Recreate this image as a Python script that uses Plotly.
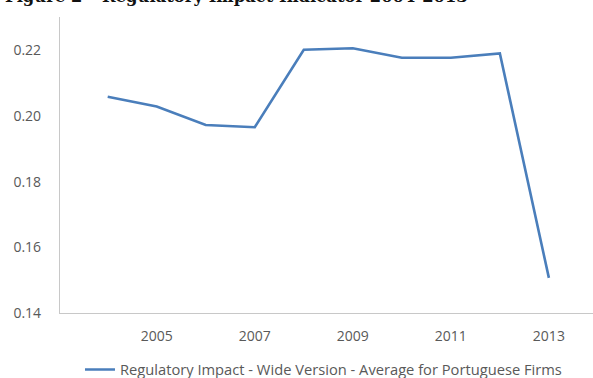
import plotly.graph_objects as go

# Regulatory impact indicator, wide version, average across Portuguese firms
years = [2004, 2005, 2006, 2007, 2008, 2009, 2010, 2011, 2012, 2013]
impact = [0.2059, 0.2029, 0.1973, 0.1966, 0.2202, 0.2207, 0.2178, 0.2178, 0.2191, 0.1507]

x_ticks = [2005, 2007, 2009, 2011, 2013]
y_ticks = [0.14, 0.16, 0.18, 0.20, 0.22]
series_name = "Regulatory Impact - Wide Version - Average for Portuguese Firms"
title_text = "Figure 2 \u2013 Regulatory Impact Indicator 2004-2013"

grey = "#595959"
axis_grey = "#c8c8c8"
blue = "#4a7ebb"

fig = go.Figure()
fig.add_trace(go.Scatter(
    x=years, y=impact, mode="lines", name=series_name,
    line=dict(color=blue, width=2.6),
))

fig.update_layout(
    width=593, height=378,
    margin=dict(l=60, r=0, t=17, b=65, autoexpand=False),
    paper_bgcolor="white", plot_bgcolor="white",
    font=dict(family="Open Sans", size=14, color=grey),
    showlegend=True,
    legend=dict(
        orientation="h", x=0.0375, xanchor="left", y=-0.1926, yanchor="middle",
        font=dict(size=14.7, color=grey), itemwidth=30,
    ),
    xaxis=dict(
        range=[2003.027, 2013.9], tickvals=x_ticks,
        ticktext=[str(v) for v in x_ticks],
        showgrid=False, zeroline=False, showline=True,
        linecolor=axis_grey, linewidth=1.2, ticks="", ticklabelstandoff=10,
    ),
    yaxis=dict(
        range=[0.14, 0.2302], tickvals=y_ticks,
        ticktext=[f"{v:.2f}" for v in y_ticks],
        showgrid=False, zeroline=False, showline=True,
        linecolor=axis_grey, linewidth=1.2, ticks="", ticklabelstandoff=15,
    ),
    annotations=[dict(
        text=title_text, xref="paper", yref="paper",
        x=-57 / 533, xanchor="left", y=1 + 9 / 296, yanchor="bottom",
        showarrow=False,
        font=dict(family="DejaVu Serif", size=16.4, color="#111111", weight="bold"),
    )],
)

fig.write_html("out.html")
